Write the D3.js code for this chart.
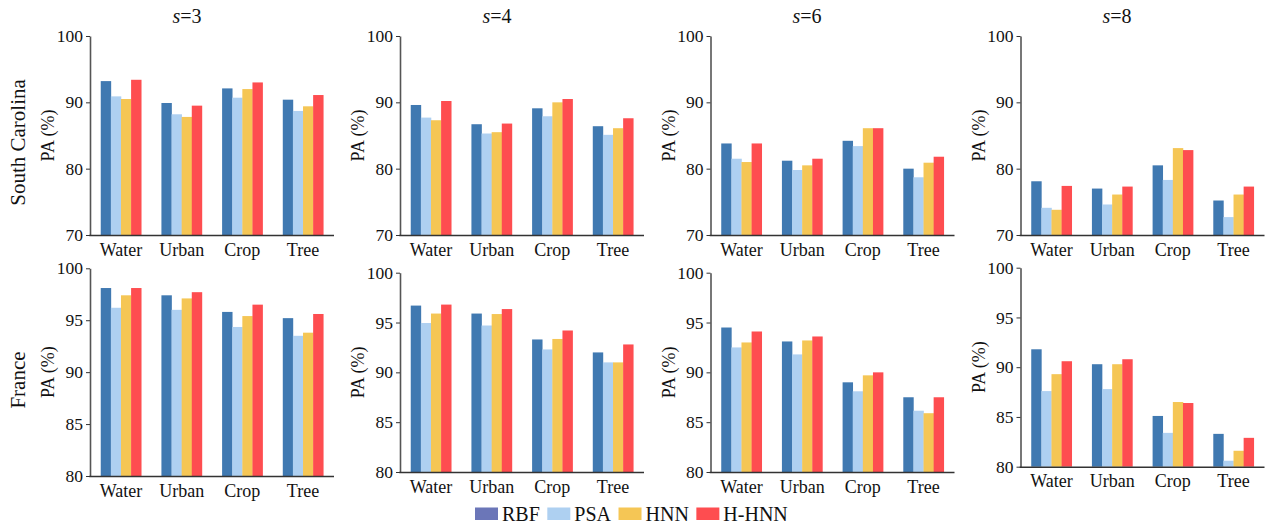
<!DOCTYPE html>
<html>
<head>
<meta charset="utf-8">
<script src="https://cdn.jsdelivr.net/npm/d3@7"></script>
<style>
  body { margin: 0; background: #fff; }
</style>
</head>
<body>
<svg id="chart" width="1270" height="527"></svg>
<script>
"use strict";

// Data //////////////////////////////////////////////////
var categories = ["Water", "Urban", "Crop", "Tree"];
var methods = ["RBF", "PSA", "HNN", "H-HNN"];
var scales = ["3", "4", "6", "8"];
var regions = ["South Carolina", "France"];

// South Carolina, one array per s, values in method order per category
var scS3 = [[93.2, 90.9, 90.5, 93.4], [89.9, 88.2, 87.8, 89.5], [92.1, 90.7, 92.0, 93.0], [90.4, 88.7, 89.4, 91.1]];
var scS4 = [[89.6, 87.7, 87.3, 90.2], [86.7, 85.3, 85.5, 86.8], [89.1, 87.9, 90.0, 90.5], [86.4, 85.1, 86.1, 87.6]];
var scS6 = [[83.8, 81.5, 81.0, 83.8], [81.2, 79.8, 80.5, 81.5], [84.2, 83.4, 86.1, 86.1], [80.0, 78.7, 80.9, 81.8]];
var scS8 = [[78.1, 74.1, 73.8, 77.4], [77.0, 74.6, 76.1, 77.3], [80.5, 78.3, 83.1, 82.8], [75.2, 72.7, 76.1, 77.3]];

// France
var frS3 = [[98.1, 96.2, 97.4, 98.1], [97.4, 96.0, 97.1, 97.7], [95.8, 94.35, 95.4, 96.5], [95.2, 93.5, 93.8, 95.6]];
var frS4 = [[96.7, 94.95, 95.9, 96.8], [95.9, 94.7, 95.85, 96.35], [93.3, 92.3, 93.35, 94.2], [92.0, 91.0, 91.0, 92.8]];
var frS6 = [[94.5, 92.5, 93.0, 94.1], [93.1, 91.8, 93.2, 93.6], [89.0, 88.1, 89.7, 90.0], [87.5, 86.15, 85.9, 87.5]];
var frS8 = [[91.8, 87.6, 89.3, 90.6], [90.3, 87.8, 90.3, 90.8], [85.1, 83.4, 86.5, 86.4], [83.3, 80.6, 81.6, 82.9]];

var yDomains = [[70, 100], [80, 100]];
var yTicks = [[70, 80, 90, 100], [80, 85, 90, 95, 100]];

var barColors = ["#4079b1", "#aed0f1", "#f5c655", "#fe4d50"];
var legendColors = ["#6b76b8", "#aed0f1", "#f5c655", "#fe4d50"];

var serif = "'Liberation Serif', 'Times New Roman', serif";

// Layout ////////////////////////////////////////////////
var svg = d3.select("#chart");
var panelLeft = [90, 400, 710.5, 1020.5];
var panelWidth = 244;
// plot bottom/top per row and column (bottom row is a bit uneven in the source)
var rowRanges = [
  [[235, 36], [235, 36], [235, 36], [235, 36]],
  [[476, 268.3], [472, 272.7], [472, 272.7], [466.7, 267.7]]
];
var panelData = [[scS3, scS4, scS6, scS8], [frS3, frS4, frS6, frS8]];

var color = d3.scaleOrdinal().domain(methods).range(barColors);

// Draw one panel
var drawPanel = function(row, col) {
  var data = panelData[row][col];
  var x0 = panelLeft[col];

  var x = d3.scaleBand()
      .domain(categories)
      .range([x0, x0 + panelWidth])
      .paddingInner(0.333)
      .paddingOuter(0.177);

  var xi = d3.scaleBand()
      .domain(methods)
      .range([0, x.bandwidth()]);

  var y = d3.scaleLinear()
      .domain(yDomains[row])
      .range(rowRanges[row][col]);

  var g = svg.append("g");

  // Bars
  g.selectAll("g.group")
      .data(categories)
    .enter().append("g")
      .attr("class", "group")
      .attr("transform", function(d) { return "translate(" + x(d) + ",0)"; })
    .selectAll("rect")
      .data(function(d, i) { return data[i].map(function(v, j) { return { m: methods[j], v: v }; }); })
    .enter().append("rect")
      .attr("x", function(d) { return xi(d.m); })
      .attr("width", xi.bandwidth() + 0.3)
      .attr("y", function(d) { return y(d.v); })
      .attr("height", function(d) { return y.range()[0] - y(d.v); })
      .attr("fill", function(d) { return color(d.m); });

  // Y axis
  var yAxis = g.append("g")
      .attr("transform", "translate(" + x0 + ",0)")
      .call(d3.axisLeft(y).tickValues(yTicks[row]).tickSize(4).tickPadding(3).tickSizeOuter(0))
      .attr("font-family", serif);
  yAxis.selectAll("text").style("font-size", "17.5px").style("font-family", serif).attr("fill", "#111");
  yAxis.select(".domain").attr("stroke", "#555").attr("stroke-width", 1.6);
  yAxis.selectAll(".tick line").attr("stroke", "#333");

  // X axis
  var xAxis = g.append("g")
      .attr("transform", "translate(0," + y.range()[0] + ")")
      .call(d3.axisBottom(x).tickSize(0).tickPadding(8).tickSizeOuter(0))
      .attr("font-family", serif);
  xAxis.selectAll("text").style("font-size", "18px").style("font-family", serif)
      .attr("fill", "#111").attr("dy", "0.71em");
  xAxis.select(".domain").attr("stroke", "#333").attr("stroke-width", 1.4)
      .attr("d", "M" + (x0 - 0.8) + ",0.5H" + (x0 + panelWidth));

  // Y label
  var ymid = (y.range()[0] + y.range()[1]) / 2;
  g.append("text")
      .attr("transform", "translate(" + (x0 - 42) + "," + ymid + ") rotate(-90)")
      .attr("text-anchor", "middle")
      .attr("dominant-baseline", "central")
      .style("font-family", serif)
      .style("font-size", "18px")
      .attr("fill", "#111")
      .text("PA (%)");
};

for (var r = 0; r < 2; r++) {
  for (var c = 0; c < 4; c++) {
    drawPanel(r, c);
  }
}

// Column titles
scales.forEach(function(s, i) {
  var t = svg.append("text")
      .attr("x", 187 + i * 310)
      .attr("y", 23)
      .attr("text-anchor", "middle")
      .attr("fill", "#111")
      .style("font-family", serif)
      .style("font-size", "20px");
  t.append("tspan").style("font-style", "italic").text("s");
  t.append("tspan").text("=" + s);
});

// Row labels
var rowCenters = [142.5, 380];
regions.forEach(function(name, i) {
  svg.append("text")
      .attr("transform", "translate(18," + rowCenters[i] + ") rotate(-90)")
      .attr("text-anchor", "middle")
      .attr("dominant-baseline", "central")
      .attr("fill", "#111")
      .style("font-family", serif)
      .style("font-size", "21px")
      .text(name);
});

// Legend
var legend = svg.append("g");
var lx = 475;
methods.forEach(function(m, i) {
  legend.append("rect")
      .attr("x", lx)
      .attr("y", 507.5)
      .attr("width", 23)
      .attr("height", 12.5)
      .attr("fill", legendColors[i]);
  var t = legend.append("text")
      .attr("x", lx + 27)
      .attr("y", 520.5)
      .attr("fill", "#111")
      .style("font-family", serif)
      .style("font-size", "20px")
      .text(m);
  lx += 27 + t.node().getComputedTextLength() + 7.5;
});
</script>
</body>
</html>
